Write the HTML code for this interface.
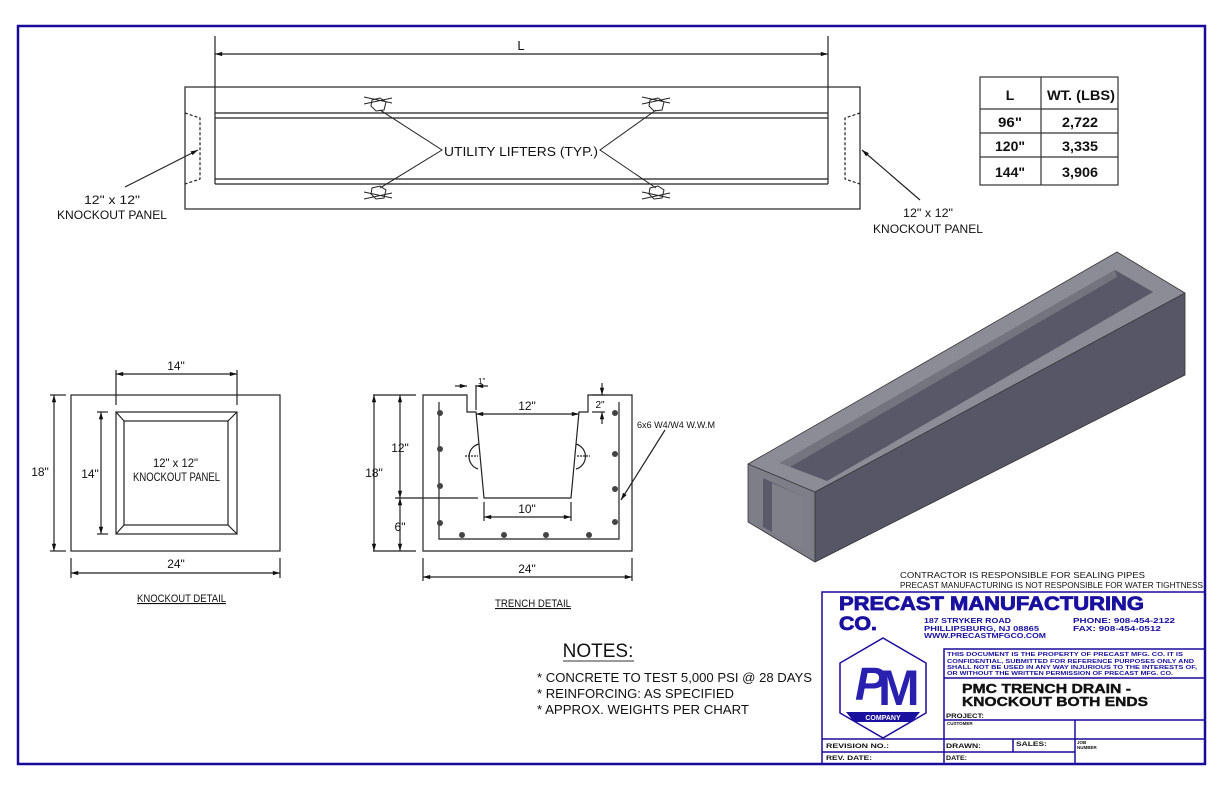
<!DOCTYPE html>
<html><head><meta charset="utf-8"><style>
html,body{margin:0;padding:0;background:#fff}
svg{display:block}
.t{font-family:"Liberation Sans",sans-serif;fill:#111}
.b{font-family:"Liberation Sans",sans-serif;font-weight:bold;fill:#1a10a0}
</style></head><body>
<svg width="1224" height="792" viewBox="0 0 1224 792" xmlns="http://www.w3.org/2000/svg">
<defs>
<marker id="a" viewBox="0 0 10 10" refX="10" refY="5" markerWidth="8" markerHeight="6" orient="auto-start-reverse"><path d="M0,2 L10,5 L0,8 z" fill="#111"/></marker>
</defs>
<rect x="18" y="26" width="1187" height="738" fill="none" stroke="#1a0a9a" stroke-width="2.5"/>

<!-- TOP PLAN -->
<g stroke="#222" fill="none" stroke-width="1.2">
<rect x="185" y="87" width="675" height="122"/>
<line x1="215" y1="113" x2="828" y2="113"/><line x1="215" y1="118" x2="828" y2="118"/>
<line x1="215" y1="179" x2="828" y2="179"/><line x1="215" y1="184" x2="828" y2="184"/>
<line x1="215" y1="36" x2="215" y2="184"/><line x1="828" y1="36" x2="828" y2="184"/>
<line x1="215" y1="54" x2="828" y2="54" marker-start="url(#a)" marker-end="url(#a)"/>
<path d="M185,113 L200,118 L200,179 L185,184" stroke-dasharray="3,2"/>
<path d="M860,113 L845,118 L845,179 L860,184" stroke-dasharray="3,2"/>
<line x1="125" y1="187" x2="198" y2="150" marker-end="url(#a)"/>
<line x1="920" y1="200" x2="862" y2="150" marker-end="url(#a)"/>
<polyline points="380,110 442,150 380,188" stroke-width="1"/>
<polyline points="656,110 600,150 656,188" stroke-width="1"/>
</g>
<g stroke="#222" fill="none" stroke-width="1">
<polygon points="372,100 380,98 386,102 384,110 376,111 371,106"/><line x1="364" y1="97" x2="392" y2="103"/><line x1="364" y1="104" x2="392" y2="98"/>
<polygon points="650,100 658,98 664,102 662,110 654,111 649,106"/><line x1="642" y1="97" x2="670" y2="103"/><line x1="642" y1="104" x2="670" y2="98"/>
<polygon points="372,188 380,186 386,190 384,198 376,199 371,194"/><line x1="364" y1="199" x2="392" y2="193"/><line x1="364" y1="192" x2="392" y2="198"/>
<polygon points="650,188 658,186 664,190 662,198 654,199 649,194"/><line x1="642" y1="199" x2="670" y2="193"/><line x1="642" y1="192" x2="670" y2="198"/>
</g>
<text class="t" x="521" y="50" font-size="13" text-anchor="middle">L</text>
<text class="t" x="444" y="156" font-size="13" textLength="154" lengthAdjust="spacingAndGlyphs">UTILITY LIFTERS (TYP.)</text>
<text class="t" x="84" y="204" font-size="12" textLength="56" lengthAdjust="spacingAndGlyphs">12" x 12"</text>
<text class="t" x="57" y="219" font-size="12" textLength="110" lengthAdjust="spacingAndGlyphs">KNOCKOUT PANEL</text>
<text class="t" x="903" y="217" font-size="12" textLength="50" lengthAdjust="spacingAndGlyphs">12" x 12"</text>
<text class="t" x="873" y="233" font-size="12" textLength="110" lengthAdjust="spacingAndGlyphs">KNOCKOUT PANEL</text>

<!-- TABLE -->
<g stroke="#333" fill="none" stroke-width="1.2">
<rect x="980" y="77" width="138" height="108"/>
<line x1="1041" y1="77" x2="1041" y2="185"/>
<line x1="980" y1="109" x2="1118" y2="109"/><line x1="980" y1="133" x2="1118" y2="133"/><line x1="980" y1="157" x2="1118" y2="157"/>
</g>
<g font-family="'Liberation Sans',sans-serif" font-weight="bold" font-size="14" fill="#111" text-anchor="middle">
<text x="1010" y="100">L</text><text x="1081" y="100" textLength="68" lengthAdjust="spacingAndGlyphs">WT. (LBS)</text>
<text x="1010" y="127" textLength="24" lengthAdjust="spacingAndGlyphs">96"</text><text x="1080" y="127" textLength="36" lengthAdjust="spacingAndGlyphs">2,722</text>
<text x="1010" y="151" textLength="30" lengthAdjust="spacingAndGlyphs">120"</text><text x="1080" y="151" textLength="36" lengthAdjust="spacingAndGlyphs">3,335</text>
<text x="1010" y="177" textLength="30" lengthAdjust="spacingAndGlyphs">144"</text><text x="1080" y="177" textLength="36" lengthAdjust="spacingAndGlyphs">3,906</text>
</g>

<!-- KNOCKOUT DETAIL -->
<g stroke="#222" fill="none" stroke-width="1.2">
<rect x="71" y="395" width="209" height="156"/>
<rect x="116" y="412" width="121" height="122"/>
<rect x="124" y="421" width="104" height="104"/>
<line x1="116" y1="412" x2="124" y2="421"/><line x1="237" y1="412" x2="228" y2="421"/>
<line x1="116" y1="534" x2="124" y2="525"/><line x1="237" y1="534" x2="228" y2="525"/>
<line x1="116" y1="370" x2="116" y2="405"/><line x1="237" y1="370" x2="237" y2="405"/>
<line x1="116" y1="374" x2="237" y2="374" marker-start="url(#a)" marker-end="url(#a)"/>
<line x1="50" y1="395" x2="66" y2="395"/><line x1="50" y1="551" x2="66" y2="551"/>
<line x1="54" y1="395" x2="54" y2="551" marker-start="url(#a)" marker-end="url(#a)"/>
<line x1="97" y1="412" x2="108" y2="412"/><line x1="97" y1="534" x2="108" y2="534"/>
<line x1="101" y1="412" x2="101" y2="534" marker-start="url(#a)" marker-end="url(#a)"/>
<line x1="71" y1="558" x2="71" y2="578"/><line x1="280" y1="558" x2="280" y2="578"/>
<line x1="71" y1="573" x2="280" y2="573" marker-start="url(#a)" marker-end="url(#a)"/>
</g>
<text class="t" x="176" y="370" font-size="12" text-anchor="middle">14"</text>
<text class="t" x="40" y="476" font-size="12" text-anchor="middle">18"</text>
<text class="t" x="90" y="478" font-size="12" text-anchor="middle">14"</text>
<text class="t" x="153" y="467" font-size="12" textLength="45" lengthAdjust="spacingAndGlyphs">12" x 12"</text>
<text class="t" x="133" y="481" font-size="12" textLength="87" lengthAdjust="spacingAndGlyphs">KNOCKOUT PANEL</text>
<text class="t" x="176" y="568" font-size="12" text-anchor="middle">24"</text>
<text class="t" x="137" y="602" font-size="11" textLength="89" lengthAdjust="spacingAndGlyphs" text-decoration="underline">KNOCKOUT DETAIL</text>

<!-- TRENCH DETAIL -->
<g stroke="#222" fill="none" stroke-width="1.2">
<path d="M467,395 L423,395 L423,551 L632,551 L632,395 L588,395 L588,412 L579,412 L571,498 L484,498 L476,412 L467,412 Z"/>
<polyline points="439,402 439,539 619,539 619,402"/>
<line x1="373" y1="395" x2="416" y2="395"/><line x1="373" y1="551" x2="416" y2="551"/>
<line x1="374" y1="395" x2="374" y2="551" marker-start="url(#a)" marker-end="url(#a)"/>
<line x1="400" y1="395" x2="400" y2="498" marker-start="url(#a)" marker-end="url(#a)"/>
<line x1="400" y1="498" x2="400" y2="551" marker-start="url(#a)" marker-end="url(#a)"/>
<line x1="395" y1="498" x2="478" y2="498"/>
<line x1="476" y1="414" x2="579" y2="414" marker-start="url(#a)" marker-end="url(#a)"/>
<line x1="484" y1="502" x2="484" y2="521"/><line x1="571" y1="502" x2="571" y2="521"/>
<line x1="484" y1="517" x2="571" y2="517" marker-start="url(#a)" marker-end="url(#a)"/>
<line x1="476" y1="385" x2="476" y2="410"/>
<line x1="455" y1="386" x2="467" y2="386" marker-end="url(#a)"/><line x1="488" y1="386" x2="476" y2="386" marker-end="url(#a)"/>
<line x1="592" y1="395" x2="605" y2="395"/><line x1="592" y1="412" x2="605" y2="412"/>
<line x1="602" y1="383" x2="602" y2="395" marker-end="url(#a)"/><line x1="602" y1="424" x2="602" y2="412" marker-end="url(#a)"/>
<line x1="423" y1="558" x2="423" y2="581"/><line x1="632" y1="558" x2="632" y2="581"/>
<line x1="423" y1="577" x2="632" y2="577" marker-start="url(#a)" marker-end="url(#a)"/>
<line x1="665" y1="430" x2="621" y2="500" marker-end="url(#a)"/>
<path d="M479,444 A13,13 0 0 0 478,469" /><path d="M576,444 A13,13 0 0 1 576,469"/>
<line x1="465" y1="456" x2="478" y2="456" stroke-dasharray="2,1"/><line x1="577" y1="456" x2="590" y2="456" stroke-dasharray="2,1"/>
</g>
<g fill="#444">
<circle cx="440" cy="413" r="3"/><circle cx="440" cy="449" r="3"/><circle cx="440" cy="486" r="3"/><circle cx="440" cy="523" r="3"/>
<circle cx="615" cy="413" r="3"/><circle cx="615" cy="454" r="3"/><circle cx="615" cy="489" r="3"/><circle cx="615" cy="522" r="3"/>
<circle cx="462" cy="535" r="3"/><circle cx="504" cy="535" r="3"/><circle cx="546" cy="535" r="3"/><circle cx="589" cy="535" r="3"/>
</g>
<text class="t" x="478" y="384" font-size="8">1"</text>
<text class="t" x="527" y="410" font-size="12" text-anchor="middle">12"</text>
<text class="t" x="600" y="408" font-size="10" text-anchor="middle">2"</text>
<text class="t" x="400" y="452" font-size="12" text-anchor="middle">12"</text>
<text class="t" x="374" y="477" font-size="12" text-anchor="middle">18"</text>
<text class="t" x="400" y="531" font-size="12" text-anchor="middle">6"</text>
<text class="t" x="527" y="513" font-size="12" text-anchor="middle">10"</text>
<text class="t" x="527" y="573" font-size="12" text-anchor="middle">24"</text>
<text class="t" x="637" y="428" font-size="9" textLength="78" lengthAdjust="spacingAndGlyphs">6x6 W4/W4 W.W.M</text>
<text class="t" x="495" y="607" font-size="11" textLength="76" lengthAdjust="spacingAndGlyphs" text-decoration="underline">TRENCH DETAIL</text>

<!-- 3D -->
<polygon points="748,464 1117,252 1185,293 815,492" fill="#8c8c96"/>
<polygon points="780,463 1115,270 1153,292 827,481" fill="#585868"/>
<polygon points="780,463 1115,270 1117,277 790,467" fill="#74747f"/>
<polygon points="748,464 815,492 815,562 748,522" fill="#7e7e88"/>
<polygon points="815,492 1185,293 1185,375 815,562" fill="#565666"/>
<polygon points="763,478 802,496 802,548 763,527" fill="#5a5a6a"/>
<polygon points="772,483 802,496 802,548 772,533" fill="#80808a"/>
<g stroke="#333" stroke-width="0.8" fill="none"><polygon points="748,464 1117,252 1185,293 1185,375 815,562 748,522"/><line x1="815" y1="492" x2="815" y2="562"/><line x1="748" y1="464" x2="815" y2="492"/><line x1="815" y1="492" x2="1185" y2="293"/></g>

<text class="t" x="900" y="578" font-size="8.5" textLength="245" lengthAdjust="spacingAndGlyphs">CONTRACTOR IS RESPONSIBLE FOR SEALING PIPES</text>
<text class="t" x="900" y="588" font-size="8.5" textLength="303" lengthAdjust="spacingAndGlyphs">PRECAST MANUFACTURING IS NOT RESPONSIBLE FOR WATER TIGHTNESS</text>

<!-- NOTES -->
<text x="598" y="657" font-family="'Liberation Sans',sans-serif" font-size="19" fill="#111" text-anchor="middle">NOTES:</text>
<line x1="563" y1="661" x2="634" y2="661" stroke="#333" stroke-width="1"/>
<g font-family="'Liberation Sans',sans-serif" font-size="12.5" fill="#111">
<text x="537" y="682" textLength="275" lengthAdjust="spacingAndGlyphs">* CONCRETE TO TEST 5,000 PSI @ 28 DAYS</text>
<text x="537" y="698" textLength="197" lengthAdjust="spacingAndGlyphs">* REINFORCING: AS SPECIFIED</text>
<text x="537" y="714" textLength="212" lengthAdjust="spacingAndGlyphs">* APPROX. WEIGHTS PER CHART</text>
</g>

<!-- TITLE BLOCK -->
<g stroke="#1a0a9a" fill="none" stroke-width="1.5">
<rect x="822" y="592" width="383" height="172"/>
<polyline points="944,764 944,649 1205,649"/>
<line x1="944" y1="678" x2="1205" y2="678"/>
<line x1="944" y1="720" x2="1205" y2="720"/>
<line x1="822" y1="739" x2="1205" y2="739"/>
<line x1="822" y1="752" x2="1075" y2="752"/>
<line x1="1075" y1="720" x2="1075" y2="764"/>
<line x1="1013" y1="739" x2="1013" y2="752"/>
<polygon points="883,638 926,663 926,713 883,738 840,713 840,663"/>
</g>
<polygon points="846,712 920,712 912,722 854,722" fill="#1a10a0"/>
<text x="855" y="700" font-family="'Liberation Sans',sans-serif" font-weight="bold" font-size="46" fill="#2a20b0" font-style="italic">P</text>
<text x="878" y="705" font-family="'Liberation Sans',sans-serif" font-weight="bold" font-size="50" fill="#2a20b0">M</text>
<text x="883" y="720" font-family="'Liberation Sans',sans-serif" font-weight="bold" font-size="7" fill="#fff" text-anchor="middle">COMPANY</text>
<text class="b" x="839" y="610" font-size="19" textLength="305" lengthAdjust="spacingAndGlyphs" stroke="#1a10a0" stroke-width="0.8">PRECAST MANUFACTURING</text>
<text class="b" x="839" y="630" font-size="19" textLength="38" lengthAdjust="spacingAndGlyphs" stroke="#1a10a0" stroke-width="0.8">CO.</text>
<g font-size="7.5">
<text x="924" y="623" class="b" textLength="87" lengthAdjust="spacingAndGlyphs">187 STRYKER ROAD</text>
<text x="924" y="631" class="b" textLength="115" lengthAdjust="spacingAndGlyphs">PHILLIPSBURG, NJ 08865</text>
<text x="924" y="638" class="b" textLength="122" lengthAdjust="spacingAndGlyphs">WWW.PRECASTMFGCO.COM</text>
<text x="1073" y="623" class="b" textLength="102" lengthAdjust="spacingAndGlyphs">PHONE: 908-454-2122</text>
<text x="1073" y="631" class="b" textLength="88" lengthAdjust="spacingAndGlyphs">FAX: 908-454-0512</text>
</g>
<g font-family="'Liberation Sans',sans-serif" font-weight="bold" font-size="5.8" fill="#1a10a0">
<text x="947" y="656" textLength="236" lengthAdjust="spacingAndGlyphs">THIS DOCUMENT IS THE PROPERTY OF PRECAST MFG. CO.  IT IS</text>
<text x="947" y="663" textLength="247" lengthAdjust="spacingAndGlyphs">CONFIDENTIAL, SUBMITTED FOR REFERENCE PURPOSES ONLY AND</text>
<text x="947" y="669" textLength="250" lengthAdjust="spacingAndGlyphs">SHALL NOT BE USED IN ANY WAY INJURIOUS TO THE INTERESTS OF,</text>
<text x="947" y="675" textLength="226" lengthAdjust="spacingAndGlyphs">OR WITHOUT THE WRITTEN PERMISSION OF PRECAST MFG. CO.</text>
</g>
<g font-family="'Liberation Sans',sans-serif" font-weight="bold" fill="#111">
<text x="962" y="693" font-size="13" textLength="169" lengthAdjust="spacingAndGlyphs" stroke="#111" stroke-width="0.4">PMC TRENCH DRAIN -</text>
<text x="962" y="706" font-size="13" textLength="186" lengthAdjust="spacingAndGlyphs" stroke="#111" stroke-width="0.4">KNOCKOUT BOTH ENDS</text>
<text x="946" y="718" font-size="6.5" textLength="38" lengthAdjust="spacingAndGlyphs">PROJECT:</text>
<text x="947" y="725" font-size="4.5">CUSTOMER</text>
<text x="826" y="748" font-size="6.5" textLength="63" lengthAdjust="spacingAndGlyphs">REVISION NO.:</text>
<text x="826" y="760" font-size="6.5" textLength="46" lengthAdjust="spacingAndGlyphs">REV. DATE:</text>
<text x="946" y="748" font-size="6.5" textLength="35" lengthAdjust="spacingAndGlyphs">DRAWN:</text>
<text x="1016" y="746" font-size="6.5" textLength="31" lengthAdjust="spacingAndGlyphs">SALES:</text>
<text x="946" y="760" font-size="6.5" textLength="21" lengthAdjust="spacingAndGlyphs">DATE:</text>
<text x="1077" y="744" font-size="4.5">JOB</text>
<text x="1077" y="749" font-size="4.5">NUMBER</text>
</g>
</svg>
</body></html>
